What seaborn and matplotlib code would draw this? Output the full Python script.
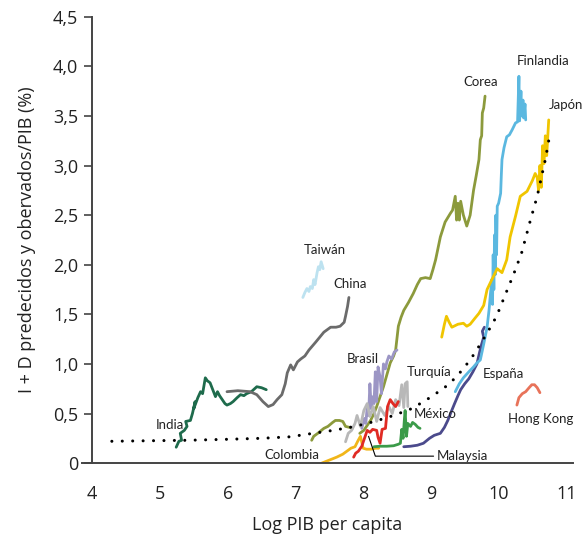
import pandas as pd
import seaborn as sns
import matplotlib.pyplot as plt
from matplotlib.ticker import FuncFormatter

# predicted curve (dotted)
pred_x = [4.29, 4.8, 5.4, 6.0, 6.5, 6.92, 7.26, 7.56, 7.88, 8.17, 8.45, 8.72, 8.94,
          9.18, 9.29, 9.48, 9.64, 9.83, 9.97, 10.10, 10.22, 10.34, 10.47, 10.57, 10.69, 10.75]
pred_y = [0.22, 0.225, 0.23, 0.24, 0.25, 0.265, 0.30, 0.33, 0.37, 0.42, 0.48, 0.55, 0.64,
          0.75, 0.81, 0.95, 1.10, 1.31, 1.48, 1.70, 1.90, 2.12, 2.45, 2.69, 3.06, 3.29]

india_x = [5.24, 5.28, 5.32, 5.30, 5.36, 5.40, 5.38, 5.45, 5.48, 5.52, 5.50, 5.56, 5.60, 5.63,
           5.67, 5.70, 5.74, 5.78, 5.82, 5.85, 5.88, 5.92, 5.96, 5.99, 6.04, 6.08, 6.14, 6.19,
           6.24, 6.28, 6.35, 6.43, 6.50, 6.57]
india_y = [0.16, 0.22, 0.23, 0.30, 0.33, 0.37, 0.42, 0.43, 0.50, 0.62, 0.55, 0.66, 0.72, 0.70,
           0.86, 0.83, 0.81, 0.74, 0.67, 0.72, 0.68, 0.64, 0.60, 0.585, 0.60, 0.62, 0.66, 0.69,
           0.68, 0.70, 0.72, 0.77, 0.76, 0.74]

china_x = [5.99, 6.15, 6.33, 6.43, 6.52, 6.60, 6.67, 6.73, 6.80, 6.85, 6.88, 6.93, 6.97, 7.03,
           7.08, 7.14, 7.20, 7.30, 7.42, 7.52, 7.60, 7.66, 7.72, 7.74, 7.77, 7.79]
china_y = [0.72, 0.73, 0.72, 0.69, 0.62, 0.57, 0.59, 0.64, 0.69, 0.80, 0.91, 0.99, 0.94, 1.02,
           1.05, 1.08, 1.14, 1.22, 1.32, 1.37, 1.37, 1.38, 1.42, 1.48, 1.58, 1.67]

taiwan_x = [7.11, 7.14, 7.17, 7.20, 7.22, 7.25, 7.27, 7.29, 7.32, 7.34, 7.36, 7.38, 7.41]
taiwan_y = [1.67, 1.72, 1.76, 1.73, 1.78, 1.76, 1.85, 1.80, 1.92, 1.98, 1.95, 2.03, 1.96]

colombia_x = [7.24, 7.27, 7.33, 7.42, 7.48, 7.55, 7.59, 7.65, 7.70, 7.74, 7.80, 7.84]
colombia_y = [0.23, 0.27, 0.30, 0.35, 0.37, 0.41, 0.43, 0.43, 0.42, 0.37, 0.36, 0.35]

corea_x = [7.95, 8.01, 8.06, 8.11, 8.16, 8.20, 8.25, 8.30, 8.35, 8.40, 8.45, 8.48, 8.52, 8.56,
           8.60, 8.67, 8.74, 8.80, 8.85, 8.92, 8.99, 9.03, 9.07, 9.14, 9.21, 9.29, 9.32, 9.36,
           9.38, 9.40, 9.42, 9.44, 9.48, 9.53, 9.58, 9.63, 9.67, 9.71, 9.73, 9.75, 9.76, 9.78, 9.80]
corea_y = [0.30, 0.33, 0.38, 0.43, 0.50, 0.57, 0.67, 0.77, 0.89, 1.01, 1.08, 1.14, 1.38, 1.47,
           1.54, 1.62, 1.71, 1.80, 1.86, 1.87, 1.86, 1.95, 2.05, 2.28, 2.43, 2.52, 2.55, 2.69,
           2.45, 2.62, 2.45, 2.64, 2.50, 2.39, 2.50, 2.75, 2.90, 3.06, 3.26, 3.30, 3.53, 3.58, 3.70]

brasil_x = [7.98, 8.02, 8.04, 8.06, 8.08, 8.10, 8.12, 8.13, 8.16, 8.18, 8.20, 8.22, 8.25,
            8.27, 8.30, 8.33, 8.35, 8.38, 8.42, 8.46, 8.50]
brasil_y = [0.35, 0.45, 0.40, 0.57, 0.48, 0.80, 0.55, 0.67, 0.60, 0.92, 0.62, 0.97, 0.87,
            0.70, 1.00, 0.95, 1.02, 1.08, 1.05, 1.12, 1.14]

turquia_x = [7.74, 7.78, 7.83, 7.88, 7.91, 7.96, 8.01, 8.06, 8.10, 8.15, 8.20, 8.25, 8.32,
             8.38, 8.43, 8.48, 8.53, 8.57, 8.60, 8.62, 8.65, 8.66]
turquia_y = [0.215, 0.30, 0.33, 0.40, 0.48, 0.37, 0.53, 0.60, 0.47, 0.57, 0.42, 0.56, 0.48,
             0.57, 0.50, 0.64, 0.58, 0.79, 0.56, 0.80, 0.82, 0.57]

malaysia_x = [7.86, 7.89, 7.93, 7.98, 8.02, 8.06, 8.10, 8.14, 8.20, 8.22, 8.25, 8.28, 8.33,
              8.36, 8.40, 8.44, 8.48, 8.52]
malaysia_y = [0.06, 0.10, 0.12, 0.17, 0.25, 0.33, 0.31, 0.34, 0.33, 0.26, 0.20, 0.34, 0.35,
              0.57, 0.64, 0.60, 0.57, 0.62]

mexico_x = [8.16, 8.25, 8.35, 8.45, 8.52, 8.55, 8.57, 8.59, 8.61, 8.62, 8.64, 8.66, 8.70,
            8.73, 8.77, 8.81, 8.84]
mexico_y = [0.165, 0.17, 0.17, 0.175, 0.19, 0.20, 0.34, 0.25, 0.45, 0.53, 0.27, 0.40, 0.37,
            0.41, 0.39, 0.36, 0.35]

espana_x = [8.60, 8.70, 8.80, 8.89, 8.98, 9.05, 9.14, 9.20, 9.25, 9.29, 9.35, 9.40, 9.44,
            9.50, 9.56, 9.62, 9.68, 9.72, 9.75, 9.78, 9.76, 9.79]
espana_y = [0.165, 0.17, 0.18, 0.20, 0.25, 0.28, 0.30, 0.36, 0.43, 0.50, 0.60, 0.68, 0.74,
            0.80, 0.85, 0.92, 1.00, 1.12, 1.20, 1.27, 1.33, 1.37]

finlandia_x = [9.36, 9.42, 9.48, 9.56, 9.63, 9.68, 9.73, 9.78, 9.83, 9.86, 9.88, 9.90, 9.91,
               9.92, 9.93, 9.94, 9.95, 9.96, 9.97, 9.98, 10.0, 10.03, 10.04, 10.05, 10.08,
               10.12, 10.16, 10.20, 10.25, 10.28, 10.30, 10.31, 10.33, 10.34, 10.36, 10.37,
               10.39, 10.40]
finlandia_y = [0.72, 0.80, 0.86, 0.92, 0.97, 1.01, 1.04, 1.20, 1.37, 1.55, 1.71, 1.85, 1.60,
               2.10, 1.75, 2.30, 1.90, 2.50, 2.10, 2.59, 2.62, 2.72, 2.90, 3.06, 3.18,
               3.29, 3.31, 3.36, 3.43, 3.44, 3.90, 3.45, 3.75, 3.50, 3.66, 3.48,
               3.62, 3.46]

japon_x = [9.16, 9.20, 9.23, 9.27, 9.31, 9.40, 9.48, 9.53, 9.58, 9.65, 9.71, 9.78, 9.83,
           9.90, 9.98, 10.05, 10.12, 10.17, 10.25, 10.32, 10.42, 10.50, 10.54, 10.57, 10.59,
           10.61, 10.63, 10.65, 10.67, 10.69, 10.71, 10.74]
japon_y = [1.27, 1.40, 1.48, 1.42, 1.37, 1.40, 1.41, 1.38, 1.40, 1.46, 1.51, 1.59, 1.75,
           1.85, 1.96, 1.92, 2.05, 2.28, 2.49, 2.69, 2.74, 2.85, 2.92, 2.88, 2.75,
           3.00, 2.78, 3.20, 3.02, 3.30, 3.10, 3.46]

# unlabelled yellow series near Colombia
otro_x = [7.39, 7.50, 7.61, 7.70, 7.76, 7.82, 7.88, 7.92, 7.96, 8.00, 8.05, 8.12, 8.18, 8.23]
otro_y = [0.0, 0.03, 0.06, 0.09, 0.12, 0.15, 0.165, 0.22, 0.27, 0.15, 0.14, 0.14, 0.15, 0.15]

hk_x = [10.27, 10.30, 10.35, 10.40, 10.45, 10.49, 10.53, 10.57, 10.61]
hk_y = [0.585, 0.66, 0.70, 0.72, 0.76, 0.79, 0.79, 0.76, 0.71]

series = [
    ("India", india_x, india_y, "#1e6b4c"),
    ("China", china_x, china_y, "#6b6b6b"),
    ("Taiwán", taiwan_x, taiwan_y, "#bde2f0"),
    ("Colombia", colombia_x, colombia_y, "#8c9a3c"),
    ("Otro", otro_x, otro_y, "#f1b619"),
    ("Corea", corea_x, corea_y, "#8c9a3c"),
    ("Brasil", brasil_x, brasil_y, "#9c96c5"),
    ("Turquía", turquia_x, turquia_y, "#b8b8b8"),
    ("Malaysia", malaysia_x, malaysia_y, "#e02b24"),
    ("México", mexico_x, mexico_y, "#3b9b49"),
    ("España", espana_x, espana_y, "#4b4a8c"),
    ("Finlandia", finlandia_x, finlandia_y, "#5bb8e0"),
    ("Japón", japon_x, japon_y, "#f0c500"),
    ("Hong Kong", hk_x, hk_y, "#e8735a"),
]

# label positions (x, y)
labels = {
    "India": (5.15, 0.38), "Taiwán": (7.44, 2.15), "China": (7.81, 1.81),
    "Colombia": (6.95, 0.08), "Brasil": (8.0, 1.05), "Turquía": (8.97, 0.92),
    "México": (9.06, 0.50), "Malaysia": (9.47, 0.07), "España": (10.07, 0.90),
    "Hong Kong": (10.62, 0.44), "Corea": (9.73, 3.84), "Finlandia": (10.65, 4.05),
    "Japón": (11.0, 3.61),
}

sns.set_style("ticks")
plt.rcParams['font.family'] = ['Open Sans', 'DejaVu Sans']

fig = plt.figure(figsize=(5.86, 5.41), dpi=100)
ax = fig.add_axes([0.14, 0.144, 0.838, 0.825])

for name, xs, ys, col in series:
    df = pd.DataFrame({"x": xs, "y": ys})
    sns.lineplot(data=df, x="x", y="y", sort=False, estimator=None, color=col,
                 lw=2, ax=ax, solid_joinstyle="round")

pred = pd.DataFrame({"x": pred_x, "y": pred_y})
sns.lineplot(data=pred, x="x", y="y", sort=False, estimator=None, color="black",
             lw=2.2, dashes=False, ax=ax, zorder=5)
ax.lines[-1].set_linestyle((0, (0.01, 3.4)))
ax.lines[-1].set_dash_capstyle("round")

for name, (tx, ty) in labels.items():
    ax.text(tx, ty, name, ha="center", va="center", fontsize=9.5, color="#222222",
            family=["Lato", "DejaVu Sans"], clip_on=False)

# Malaysia leader line
ax.plot([9.04, 8.18, 8.08], [0.07, 0.07, 0.27], color="black", lw=0.8)

ax.set_xlim(3.85, 11.1)
ax.set_ylim(0, 4.5)
ax.spines['left'].set_position(('data', 4))
sns.despine(ax=ax)
for s in ['left', 'bottom']:
    ax.spines[s].set_color("#444444")
    ax.spines[s].set_linewidth(1.4)

ax.set_xticks(range(4, 12))
ax.set_yticks([i * 0.5 for i in range(10)])
ax.yaxis.set_major_formatter(FuncFormatter(
    lambda v, p: "0" if v == 0 else f"{v:.1f}".replace(".", ",")))
ax.tick_params(axis="x", length=0, pad=16, labelsize=13, colors="#222222")
ax.tick_params(axis="y", length=6, width=1.2, color="#444444", pad=4, labelsize=13,
               labelcolor="#222222")

ax.set_xlabel("Log PIB per capita", fontsize=13, color="#222222", labelpad=9)
ax.set_ylabel("I + D predecidos y obervados/PIB (%)", fontsize=13, color="#222222",
              labelpad=12)

fig.savefig("out.png", dpi=100)
